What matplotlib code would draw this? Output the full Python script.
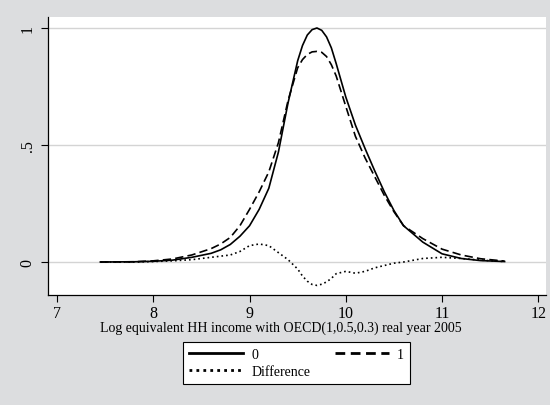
import matplotlib

matplotlib.use("Agg")
import matplotlib.pyplot as plt
from matplotlib.lines import Line2D

# kernel density estimates
income = [7.45, 7.8, 8.0, 8.2, 8.4, 8.6, 8.7, 8.8, 8.9, 9.0, 9.1, 9.2, 9.3, 9.4, 9.5,
          9.55, 9.6, 9.65, 9.7, 9.75, 9.8, 9.85, 9.9, 10.0, 10.1, 10.2, 10.3, 10.4,
          10.5, 10.6, 10.8, 11.0, 11.2, 11.4, 11.65]
dens_0 = [0.0, 0.001, 0.003, 0.008, 0.02, 0.037, 0.052, 0.075, 0.11, 0.155, 0.225,
          0.315, 0.47, 0.68, 0.86, 0.925, 0.97, 0.993, 1.0, 0.99, 0.962, 0.915,
          0.848, 0.705, 0.585, 0.485, 0.39, 0.30, 0.22, 0.155, 0.085, 0.035, 0.015,
          0.006, 0.002]
dens_1 = [0.0, 0.001, 0.005, 0.013, 0.03, 0.057, 0.077, 0.105, 0.155, 0.225, 0.30,
          0.385, 0.51, 0.69, 0.83, 0.865, 0.887, 0.898, 0.90, 0.896, 0.878, 0.843,
          0.795, 0.665, 0.537, 0.445, 0.365, 0.285, 0.215, 0.155, 0.10, 0.055, 0.03,
          0.014, 0.004]
diff = [0.0, 0.0, 0.002, 0.005, 0.01, 0.02, 0.025, 0.03, 0.045, 0.07, 0.077, 0.07,
        0.04, 0.01, -0.03, -0.06, -0.082, -0.096, -0.10, -0.095, -0.085, -0.07,
        -0.05, -0.04, -0.048, -0.04, -0.025, -0.015, -0.005, 0.0, 0.015, 0.02,
        0.015, 0.008, 0.002]

xticks = [7, 8, 9, 10, 11, 12]
yticks = [0, 0.5, 1]
yticklabels = ["0", ".5", "1"]

plt.rcParams["font.family"] = ["Liberation Serif", "DejaVu Serif"]
BG = "#dcdddf"

fig = plt.figure(figsize=(5.5, 4.06), dpi=100, facecolor=BG)
ax = fig.add_axes([48 / 550, 1 - 296 / 406, 498 / 550, 278 / 406])
ax.set_facecolor("white")

for y in yticks:
    ax.axhline(y, color="#d4d4d4", lw=1.0, zorder=0)

ax.plot(income, dens_0, color="black", lw=1.2)
ax.plot(income, dens_1, color="black", lw=1.2, ls=(0, (5, 2.5)))
ax.plot(income, diff, color="black", lw=1.2, ls=(0, (1, 1.8)))

ax.set_xlim(6.906, 12.08)
ax.set_ylim(-0.141, 1.047)
ax.set_xticks(xticks)
ax.set_yticks(yticks)
ax.set_yticklabels(yticklabels, rotation=90, va="center")
ax.tick_params(axis="both", direction="out", length=5, width=0.8, labelsize=11.5,
               colors="black", pad=2)
ax.tick_params(axis="y", pad=4)

for side in ("top", "right"):
    ax.spines[side].set_visible(False)
for side in ("left", "bottom"):
    ax.spines[side].set_linewidth(0.9)

ax.set_xlabel("Log equivalent HH income with OECD(1,0.5,0.3) real year 2005",
              fontsize=10)
ax.xaxis.set_label_coords(0.468, -0.092)

# thicker proxies for the key, as in the reference
h0 = Line2D([], [], color="black", lw=2)
h1 = Line2D([], [], color="black", lw=2, ls=(0, (3.5, 2)))
hd = Line2D([], [], color="black", lw=2, ls=(0, (1, 1.5)))
leg = fig.legend([h0, hd, h1], ["0", "Difference", "1"], ncol=2, loc="center",
                 bbox_to_anchor=(0.539, 0.1034), fontsize=10, frameon=True,
                 fancybox=False, edgecolor="black", framealpha=1,
                 handlelength=3.9, handletextpad=0.6, columnspacing=1.75,
                 borderpad=0.45, labelspacing=0.3)
leg.get_frame().set_linewidth(0.8)

fig.savefig("out.png", facecolor=BG)
